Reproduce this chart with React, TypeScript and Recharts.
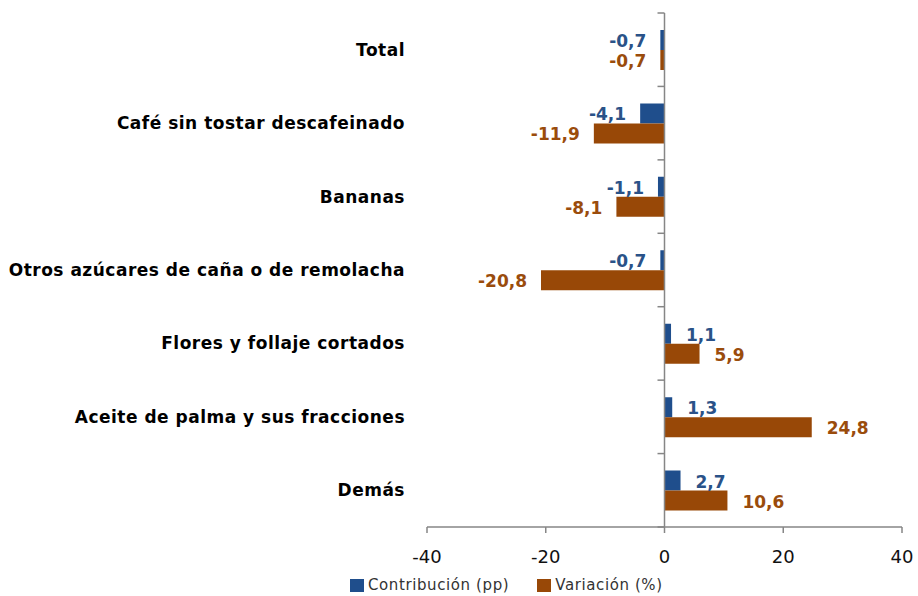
import React from "react"
import {
  BarChart,
  Bar,
  XAxis,
  YAxis,
  Legend,
  LabelList,
  ReferenceLine,
} from "recharts"

const categories = [
  "Total",
  "Café sin tostar descafeinado",
  "Bananas",
  "Otros azúcares de caña o de remolacha",
  "Flores y follaje cortados",
  "Aceite de palma y sus fracciones",
  "Demás",
]
const contribucion = [-0.7, -4.1, -1.1, -0.7, 1.1, 1.3, 2.7]
const variacion = [-0.7, -11.9, -8.1, -20.8, 5.9, 24.8, 10.6]
const xTicks = [-40, -20, 0, 20, 40]

const BLUE = "#1F4E8C"
const BLUE_TEXT = "#2A5288"
const ORANGE = "#984807"
const ORANGE_TEXT = "#9A4C0C"
const AXIS = "#868686"
const FONT = "'DejaVu Sans', Verdana, sans-serif"

const data = categories.map((name, i) => ({
  name,
  contribucion: contribucion[i],
  variacion: variacion[i],
}))

const fmt = (v: number) => v.toFixed(1).replace(".", ",")

function makeLabel(color: string) {
  return (props: any) => {
    const { x, y, width, height, value } = props
    const neg = value < 0
    const end = x + width
    const tx = neg ? end - 14 : end + 15
    return (
      <text
        x={tx}
        y={y + height / 2 + 2}
        textAnchor={neg ? "end" : "start"}
        dominantBaseline="middle"
        fill={color}
        fontFamily={FONT}
        fontWeight="bold"
        fontSize={17}
      >
        {fmt(value)}
      </text>
    )
  }
}

function ZeroAxis(props: any) {
  const { x1, y1, y2 } = props
  const top = Math.min(y1, y2)
  const bottom = Math.max(y1, y2)
  const step = (bottom - top) / categories.length
  const marks = []
  for (let i = 0; i <= categories.length; i++) {
    const yy = top + step * i
    marks.push(<line key={i} x1={x1 - 7} y1={yy} x2={x1} y2={yy} stroke={AXIS} strokeWidth={1.5} />)
  }
  return (
    <g>
      <line x1={x1} y1={top} x2={x1} y2={bottom} stroke={AXIS} strokeWidth={1.5} />
      {marks}
    </g>
  )
}

function LegendContent() {
  const items = [
    { label: "Contribución (pp)", color: BLUE },
    { label: "Variación (%)", color: ORANGE },
  ]
  return (
    <div
      style={{
        display: "flex",
        gap: 28,
        fontFamily: FONT,
        fontSize: 15,
        color: "#333",
        height: 35,
        boxSizing: "border-box",
        paddingTop: 15,
      }}
    >
      {items.map((it) => (
        <div key={it.label} style={{ display: "flex", alignItems: "center", gap: 4, height: 18 }}>
          <span style={{ width: 14, height: 13, background: it.color, display: "inline-block" }} />
          <span style={{ letterSpacing: 0.6 }}>{it.label}</span>
        </div>
      ))}
    </div>
  )
}

export default function App() {
  return (
    <div style={{ position: "absolute", left: 0, top: 0, width: 918, height: 596, background: "#fff" }}>
      <BarChart
        width={918}
        height={596}
        data={data}
        layout="vertical"
        margin={{ top: 13, right: 16, left: 0, bottom: 0 }}
        barGap={0}
        barSize={20}
      >
        <XAxis
          type="number"
          domain={[-40, 40]}
          ticks={xTicks}
          stroke={AXIS}
          strokeWidth={1.5}
          tickSize={6}
          tickMargin={17}
          height={34}
          tick={{ fill: "#111", fontSize: 18, fontFamily: FONT }}
        />
        <YAxis
          type="category"
          dataKey="name"
          width={427}
          axisLine={false}
          tickLine={false}
          tickMargin={16}
          tick={{ fill: "#000", fontSize: 17, fontWeight: "bold", fontFamily: FONT, letterSpacing: 0.5 }}
        />
        <ReferenceLine x={0} shape={ZeroAxis} />
        <Legend
          verticalAlign="bottom"
          content={LegendContent}
          wrapperStyle={{ left: 350, width: "auto", height: 35 }}
        />
        <Bar dataKey="contribucion" name="Contribución (pp)" fill={BLUE} isAnimationActive={false}>
          <LabelList dataKey="contribucion" content={makeLabel(BLUE_TEXT)} />
        </Bar>
        <Bar dataKey="variacion" name="Variación (%)" fill={ORANGE} isAnimationActive={false}>
          <LabelList dataKey="variacion" content={makeLabel(ORANGE_TEXT)} />
        </Bar>
      </BarChart>
    </div>
  )
}
